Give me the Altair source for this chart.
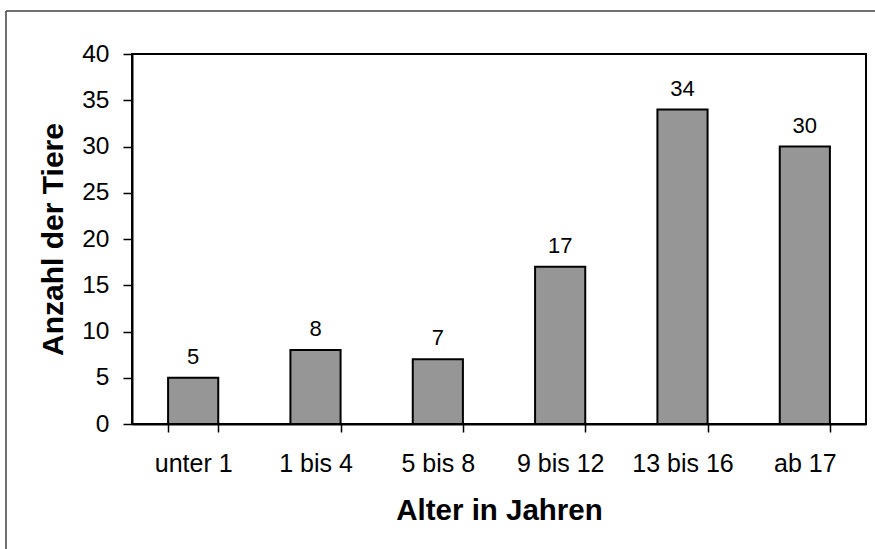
import altair as alt
import pandas as pd

# Age groups and number of animals per group
kategorien = ["unter 1", "1 bis 4", "5 bis 8", "9 bis 12", "13 bis 16", "ab 17"]
anzahl = [5, 8, 7, 17, 34, 30]
y_ticks = [0, 5, 10, 15, 20, 25, 30, 35, 40]

df = pd.DataFrame({"Alter": kategorien, "Anzahl": anzahl})
FONT = "Liberation Sans"

x_enc = alt.X(
    "Alter:N",
    sort=kategorien,
    title="Alter in Jahren",
    scale=alt.Scale(paddingInner=0.59, paddingOuter=0.295),
    axis=alt.Axis(
        labelAngle=0,
        tickBand="extent",
        tickSize=8,
        labelPadding=39,
        labelBaseline="alphabetic",
        labelFontSize=25,
        titleFontSize=29.5,
        titleFontWeight="bold",
        titleBaseline="alphabetic",
        titleAlign="center",
        titleX=367,
        titleY=95,
    ),
)
y_enc = alt.Y(
    "Anzahl:Q",
    scale=alt.Scale(domain=[0, 40], nice=False),
    title="Anzahl der Tiere",
    axis=alt.Axis(
        values=y_ticks,
        grid=False,
        tickSize=9,
        labelPadding=14,
        labelFontSize=24.5,
        titleFontSize=30,
        titleFontWeight="bold",
        titleAngle=-90,
        titleBaseline="alphabetic",
        titleAlign="center",
        titleX=-70,
        titleY=185,
    ),
)

base = alt.Chart(df).encode(x=x_enc, y=y_enc)

bars = base.mark_bar(fill="#969696", stroke="black", strokeWidth=2)
labels = base.mark_text(
    baseline="alphabetic", dy=-14, fontSize=22, font=FONT, color="black"
).encode(text="Anzahl:Q")

# outer chart border (left and top edges)
one = alt.Chart(pd.DataFrame({"r": [0]}))
border_left = one.mark_rule(color="#404040", strokeWidth=1.5).encode(
    x=alt.value(-126), y=alt.value(-43), y2=alt.value(495)
)
border_top = one.mark_rule(color="#404040", strokeWidth=1.5).encode(
    x=alt.value(-126), x2=alt.value(743), y=alt.value(-43)
)

chart = (
    alt.layer(bars, labels, border_left, border_top)
    .properties(
        width=734,
        height=370,
        autosize=alt.AutoSizeParams(type="none"),
        padding={"left": 132, "top": 54, "right": 9, "bottom": 125},
        background="white",
    )
    .configure_view(stroke="black", strokeWidth=2)
    .configure_axis(
        labelFont=FONT,
        titleFont=FONT,
        labelColor="black",
        titleColor="black",
        domainColor="black",
        domainWidth=2,
        tickColor="black",
        tickWidth=1.5,
    )
)

chart.save("out.html", embed_options={"renderer": "svg", "actions": False})
